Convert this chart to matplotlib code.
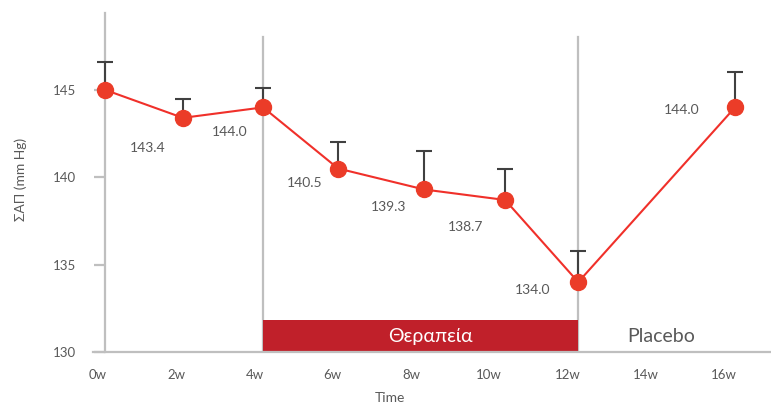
import matplotlib
matplotlib.use("Agg")
import matplotlib.pyplot as plt

plt.rcParams['font.family'] = ['Lato', 'DejaVu Sans']

# systolic pressure per visit (mean and upper SD)
week_pos = [0.18, 2.17, 4.22, 6.14, 8.34, 10.41, 12.28, 16.29]
sap = [145.0, 143.4, 144.0, 140.5, 139.3, 138.7, 134.0, 144.0]
sap_sd = [1.6, 1.1, 1.1, 1.5, 2.2, 1.8, 1.8, 2.0]
value_labels = [None, "143.4", "144.0", "140.5", "139.3", "138.7", "134.0", "144.0"]

tick_weeks = [0, 2, 4, 6, 8, 10, 12, 14, 16]
tick_labels = ["0w", "2w", "4w", "6w", "8w", "10w", "12w", "14w", "16w"]
y_ticks = [130, 135, 140, 145]

therapy_start = week_pos[2]
therapy_end = week_pos[6]

# label offsets from each point, in pixels
label_offsets = [None, (-35, -30), (-33, -25), (-33, -14), (-36, -18),
                 (-40, -27), (-46, -8), (-53, -3)]

gray_txt = "#595959"
gray_line = "#bfbfbf"

fig = plt.figure(figsize=(7.71, 4.03), dpi=100)
ax = fig.add_axes([93 / 771, 51 / 403, 678 / 771, 339 / 403])

ax.set_xlim(-0.13, 17.21)
ax.set_ylim(130, 149.4)

# treatment bar along the bottom
ax.fill_between([therapy_start, therapy_end], 130, 131.83, color="#c0202a",
                linewidth=0, zorder=2)
ax.text((therapy_start + therapy_end) / 2 + 0.25, 130.9, "Θεραπεία", color="white",
        fontsize=14, ha="center", va="center", zorder=3)
ax.text(14.4, 130.9, "Placebo", color=gray_txt, fontsize=14,
        ha="center", va="center", zorder=3)

# phase boundaries
for xv in (therapy_start, therapy_end):
    ax.plot([xv, xv], [130, 148], color=gray_line, linewidth=1.6, zorder=1)

ax.errorbar(week_pos, sap, yerr=[[0] * len(sap), sap_sd], fmt="none",
            ecolor="#404040", elinewidth=1.5, capsize=5.5, capthick=1.5, zorder=3)
ax.plot(week_pos, sap, color="#f0302a", linewidth=1.5, zorder=4)
ax.plot(week_pos, sap, "o", color="#eb3c28", markersize=11.5, zorder=5)

for xv, yv, txt, off in zip(week_pos, sap, value_labels, label_offsets):
    if txt is None:
        continue
    ax.annotate(txt, (xv, yv), xytext=off, textcoords="offset pixels",
                ha="center", va="center", fontsize=10, color=gray_txt)

for side in ("top", "right"):
    ax.spines[side].set_visible(False)
ax.spines["left"].set_position(("data", week_pos[0]))
for side in ("left", "bottom"):
    ax.spines[side].set_color(gray_line)
    ax.spines[side].set_linewidth(1.6)

ax.set_xticks(tick_weeks)
ax.set_xticklabels(tick_labels)
ax.set_yticks(y_ticks)
ax.tick_params(axis="x", length=0, pad=12, labelsize=9.5, labelcolor=gray_txt)
ax.tick_params(axis="y", length=8, width=1.6, color=gray_line, pad=13,
               labelsize=9.5, labelcolor=gray_txt)

ax.set_xlabel("Time", fontsize=10, color=gray_txt)
ax.xaxis.set_label_coords((390 - 93) / 678, -0.118)
fig.text(21 / 771, 1 - 179 / 403, "ΣΑΠ (mm Hg)", rotation=90, fontsize=10,
         color=gray_txt, ha="center", va="center")

fig.savefig("out.png", dpi=100)
